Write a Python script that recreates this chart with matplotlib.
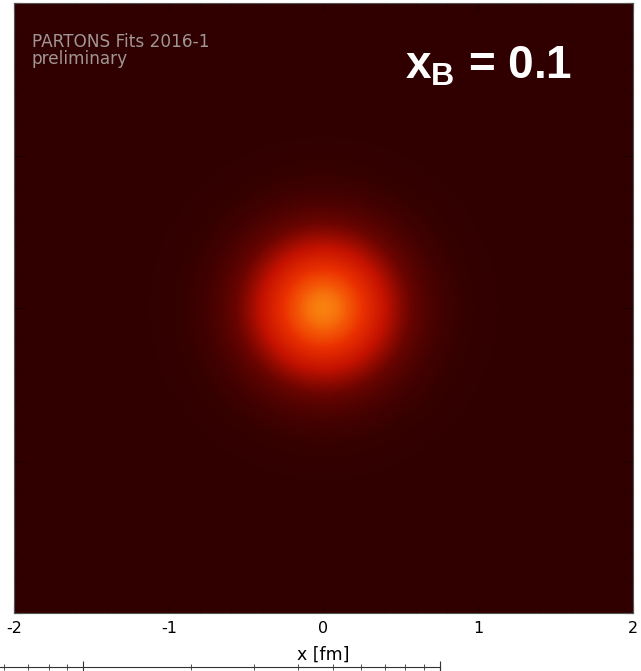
import numpy as np
import matplotlib.pyplot as plt
from matplotlib.colors import LinearSegmentedColormap
from matplotlib.ticker import MultipleLocator, NullFormatter

plt.rcParams['mathtext.fontset'] = 'custom'
plt.rcParams['mathtext.bf'] = 'Liberation Sans:bold'
plt.rcParams['mathtext.rm'] = 'Liberation Sans'

# impact-parameter density at x_B = 0.1 (gaussian profile in b)
x_B = 0.1
b_width_fm = 0.34       # gaussian width of the density
peak_density = 1.0      # density at b = 0 (normalised)
color_range = (0.0, 1.0)

x_ticks = [-2, -1, 0, 1, 2]
x_tick_labels = ['-2', '-1', '0', '1', '2']

heat = LinearSegmentedColormap.from_list(
    'heat', [(0.0, '#300000'), (0.25, '#6a0400'), (0.5, '#c41200'),
             (0.75, '#ea3000'), (0.9, '#f45806'), (1.0, '#f8800f')])

bx = np.linspace(-2, 2, 401)
by = np.linspace(-2, 2, 401)
BX, BY = np.meshgrid(bx, by)
rho = peak_density * np.exp(-(BX**2 + BY**2) / (2 * b_width_fm**2))

fig = plt.figure(figsize=(6.41, 6.71), dpi=100)
ax = fig.add_axes([14 / 641, 58 / 671, 619 / 641, 610 / 671])
ax.pcolormesh(bx, by, rho, cmap=heat, vmin=color_range[0], vmax=color_range[1],
              shading='gouraud', rasterized=True)
ax.set_xlim(-2, 2)
ax.set_ylim(-2, 2)
ax.set_xticks(x_ticks)
ax.set_xticklabels(x_tick_labels, fontsize=11.5)
ax.xaxis.set_minor_locator(MultipleLocator(0.2))
ax.yaxis.set_major_locator(MultipleLocator(1))
ax.yaxis.set_minor_locator(MultipleLocator(0.2))
ax.tick_params(which='both', direction='in', top=True, right=True, labelleft=False,
               color='#1a0000')
ax.tick_params(which='major', length=6)
ax.tick_params(which='minor', length=3)
ax.tick_params(axis='x', pad=6)
for s in ax.spines.values():
    s.set_color('#555555')
ax.set_xlabel('x [fm]', fontsize=12.5, labelpad=7)

ax.text(0.029, 0.951, 'PARTONS Fits 2016-1\npreliminary', transform=ax.transAxes,
        color='#a09696', fontsize=12.2, va='top', ha='left', linespacing=0.95)
ax.text(391 / 619, 0.877, r'$\mathbf{x_B}$ = 0.1', transform=ax.transAxes,
        color='white', fontsize=33, fontweight='bold', family='Liberation Sans',
        va='baseline', ha='left')

# lower panel, log scale in x
ax2 = fig.add_axes([-24 / 641, -29 / 671, 464 / 641, 33 / 671])
ax2.set_xscale('log')
ax2.set_xlim(0.5, 10)
ax2.set_ylim(0, 1)
ax2.xaxis.set_minor_formatter(NullFormatter())
ax2.tick_params(which='both', direction='inout', top=True, bottom=False,
                labelbottom=False, left=False, labelleft=False, color='#333333')
ax2.tick_params(which='major', length=8)
ax2.tick_params(which='minor', length=5)
for s in ax2.spines.values():
    s.set_color('#333333')

fig.savefig('out.png', dpi=100)
